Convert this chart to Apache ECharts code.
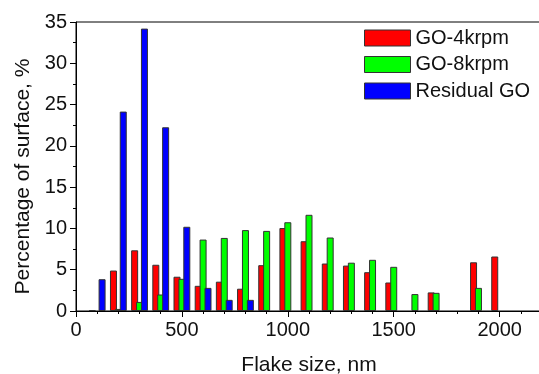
<!DOCTYPE html>
<html>
<head>
<meta charset="utf-8">
<script src="https://cdn.jsdelivr.net/npm/echarts@6/dist/echarts.min.js"></script>
<style>
  html, body { margin: 0; padding: 0; background: #fff; }
  #chart { width: 539px; height: 374px; }
</style>
</head>
<body>
<div id="chart"></div>
<script>
// flake size bins (nm)
var bins = [100, 200, 300, 400, 500, 600, 700, 800, 900, 1000, 1100, 1200, 1300, 1400, 1500, 1600, 1700, 1800, 1900, 2000];
// percentage of surface, %
var go4k = [0.1, 4.9, 7.35, 5.6, 4.15, 3.05, 3.55, 2.7, 5.55, 10.05, 8.45, 5.75, 5.5, 4.7, 3.45, null, 2.25, null, 5.9, 6.6];
var go8k = [null, 0.25, 1.1, 2.0, 3.9, 8.65, 8.85, 9.8, 9.7, 10.75, 11.65, 8.9, 5.85, 6.2, 5.35, 2.05, 2.2, null, 2.8, null];
var residual = [3.85, 24.15, 34.2, 22.25, 10.2, 2.8, 1.35, 1.35, null, null, null, null, null, null, null, null, null, null, null, null];
var seriesNames = ['GO-4krpm', 'GO-8krpm', 'Residual GO'];
var seriesColors = ['#ff0000', '#00ff00', '#0000ff'];

var font = 'Liberation Sans';
var myChart = echarts.init(document.getElementById('chart'));

function pairs(vals) {
    return bins.map(function (b, i) { return [b, vals[i]]; });
}

var option = {
    animation: false,
    textStyle: { fontFamily: font },
    grid: {
        left: 76, right: -3, top: 22, bottom: 63,
        outerBoundsMode: 'none',
        containLabel: false,
        show: true, borderColor: '#000', borderWidth: 1
    },
    legend: {
        orient: 'vertical',
        left: 364, top: 28,
        padding: 0,
        itemWidth: 46, itemHeight: 16, itemGap: 6.5,
        icon: 'rect',
        itemStyle: { borderColor: '#333', borderWidth: 1 },
        textStyle: { fontSize: 20, color: '#111', fontFamily: font },
        data: seriesNames
    },
    xAxis: {
        type: 'value',
        min: 0, max: 2200, interval: 500,
        name: 'Flake size, nm',
        nameLocation: 'middle',
        nameGap: 44,
        nameTextStyle: { fontSize: 21, color: '#111', fontFamily: font },
        axisLine: { show: true, lineStyle: { color: '#000', width: 1 } },
        axisTick: { show: true, inside: false, length: 6, lineStyle: { color: '#000' } },
        minorTick: { show: true, splitNumber: 5, length: 3, lineStyle: { color: '#000' } },
        axisLabel: {
            fontSize: 20, color: '#111', margin: 9, fontFamily: font,
            formatter: function (v) { return String(v); }
        },
        splitLine: { show: false }
    },
    yAxis: {
        type: 'value',
        min: 0, max: 35, interval: 5,
        name: 'Percentage of surface, %',
        nameLocation: 'middle',
        nameGap: 41,
        nameTextStyle: { fontSize: 21, color: '#111', fontFamily: font, padding: [0, 20, 0, 0] },
        axisLine: { show: true, lineStyle: { color: '#000', width: 1 } },
        axisTick: { show: true, inside: false, length: 6, lineStyle: { color: '#000' } },
        minorTick: { show: true, splitNumber: 2, length: 3, lineStyle: { color: '#000' } },
        axisLabel: { fontSize: 20, color: '#111', margin: 9, fontFamily: font },
        splitLine: { show: false }
    },
    series: [go4k, go8k, residual].map(function (vals, i) {
        return {
            name: seriesNames[i],
            type: 'bar',
            barWidth: 7,
            barGap: '-30%',
            itemStyle: { color: seriesColors[i], borderColor: '#333', borderWidth: 1 },
            data: pairs(vals)
        };
    })
};

myChart.setOption(option);
</script>
</body>
</html>
